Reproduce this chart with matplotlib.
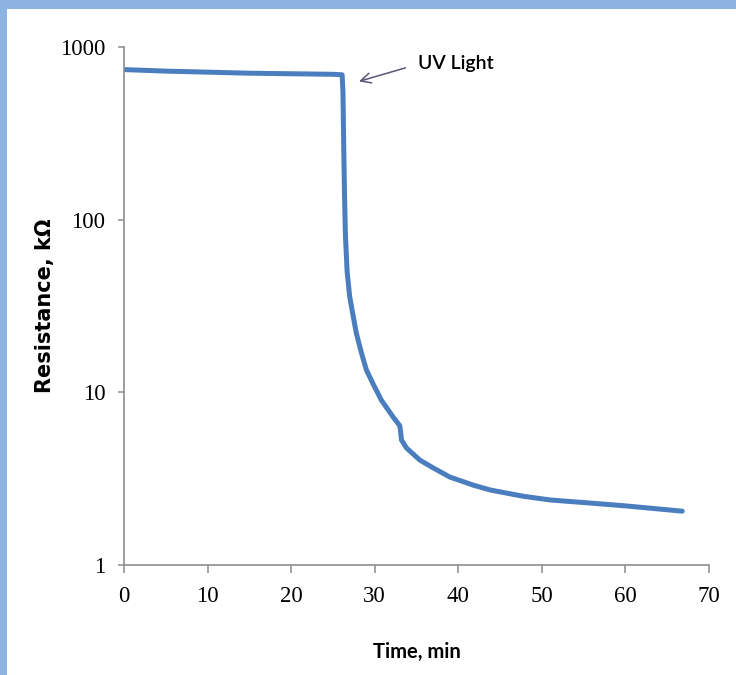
import matplotlib
matplotlib.use("Agg")
import matplotlib.pyplot as plt
from matplotlib.patches import Rectangle

# values (time in min, resistance in kOhm)
time_min = [0, 5, 10, 15, 20, 25, 26.1, 26.2, 26.3, 26.4, 26.5, 26.7, 27.0,
            27.4, 27.8, 28.4, 29.0, 29.8, 30.8, 32.2, 33.0, 33.1, 33.2, 33.8,
            35.4, 37.0, 39.0, 41.8, 43.8, 47.8, 51.0, 55.0, 60.0, 66.8]
resistance = [740, 725, 715, 705, 700, 695, 690, 550, 250, 130, 80, 50, 36,
              28, 22, 17, 13.5, 11.2, 9.0, 7.2, 6.4, 5.9, 5.3, 4.76,
              4.05, 3.65, 3.23, 2.9, 2.72, 2.5, 2.38, 2.3, 2.2, 2.05]

x_ticks = [0, 10, 20, 30, 40, 50, 60, 70]
y_ticks = [1, 10, 100, 1000]
y_tick_labels = ["1", "10", "100", "1000"]

line_color = "#4a7ebf"
axis_color = "#8c8c8c"

fig = plt.figure(figsize=(7.36, 6.75), dpi=100)
fig.patch.set_facecolor("#8db3e2")
# white panel inside the blue frame
fig.patches.append(Rectangle((7 / 736, 0), 1, 1 - 9 / 675, transform=fig.transFigure,
                             facecolor="white", edgecolor="none", zorder=-10))

ax = fig.add_axes([124 / 736, 1 - 565 / 675, 585 / 736, 518 / 675])
ax.set_facecolor("white")

ax.plot(time_min, resistance, color=line_color, lw=3.6, solid_joinstyle="round",
        solid_capstyle="round")

ax.set_yscale("log")
ax.set_ylim(1, 1000)
ax.set_xlim(0, 70)
ax.set_xticks(x_ticks)
ax.set_yticks(y_ticks)
ax.set_yticklabels(y_tick_labels)
ax.yaxis.set_minor_locator(matplotlib.ticker.NullLocator())

for side in ["top", "right"]:
    ax.spines[side].set_visible(False)
for side in ["left", "bottom"]:
    ax.spines[side].set_color(axis_color)
    ax.spines[side].set_linewidth(1.2)

ax.tick_params(axis="x", length=6, width=1.1, color=axis_color, pad=9)
ax.tick_params(axis="y", length=4.5, width=1.1, color=axis_color, pad=9)
for lab in ax.get_xticklabels() + ax.get_yticklabels():
    lab.set_fontfamily("Liberation Serif")
    lab.set_fontsize(16.5)

ax.set_xlabel("Time, min", fontsize=14.5, fontweight="bold", family="Lato")
ax.xaxis.set_label_coords(0.5, -0.148)
ax.set_ylabel("Resistance, kΩ", fontsize=15, fontweight="bold", family="DejaVu Sans")
ax.yaxis.set_label_coords(-0.118, 0.5)

# UV light annotation
ax.annotate("", xy=(27.8, 626), xytext=(34.0, 765),
            arrowprops=dict(arrowstyle="->", color="#5a5478", lw=1.1,
                            mutation_scale=18))
ax.text(35.2, 800, "UV Light", fontsize=14, fontweight="semibold", ha="left",
        va="center", family="Lato")

fig.savefig("out.png", dpi=100, facecolor=fig.get_facecolor())
